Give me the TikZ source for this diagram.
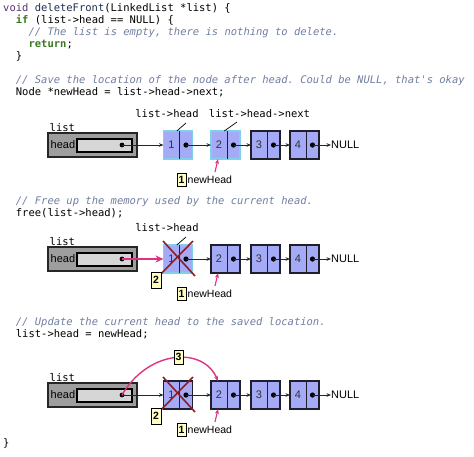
\documentclass[tikz,border=0pt]{standalone}
\usepackage{fontspec}
\setmainfont{Liberation Sans}
\setsansfont{Liberation Sans}
\setmonofont{DejaVu Sans Mono}
\usetikzlibrary{arrows.meta}

\definecolor{cellfill}{RGB}{164,170,246}
\definecolor{hiedge}{RGB}{128,208,236}
\definecolor{darkedge}{RGB}{30,30,45}
\definecolor{boxgray}{RGB}{158,158,158}
\definecolor{innergray}{RGB}{214,214,214}
\definecolor{ptrpink}{RGB}{222,50,130}
\definecolor{xred}{RGB}{140,30,40}
\definecolor{tagfill}{RGB}{255,255,195}
\definecolor{kwgreen}{RGB}{60,120,30}
\definecolor{cmtblue}{RGB}{112,126,160}
\definecolor{voidc}{RGB}{90,50,120}
\definecolor{fnc}{RGB}{30,45,80}

\tikzset{
  code/.style={anchor=base west, inner sep=0pt, text=black,
    font=\fontsize{10.5}{12}\selectfont\ttfamily\frenchspacing},
  cmt/.style={code, text=cmtblue, font=\fontsize{10.5}{12}\selectfont\ttfamily\itshape\frenchspacing},
  monolbl/.style={inner sep=0pt, font=\fontsize{10.5}{12}\selectfont\ttfamily, text=black},
  sanslbl/.style={inner sep=0pt, font=\fontsize{10.5}{12}\selectfont\sffamily, text=black},
  cell/.style={fill=cellfill, minimum width=29pt, minimum height=28pt, inner sep=0pt, outer sep=0pt, anchor=west},
  hicell/.style={cell, draw=hiedge, line width=1.7pt},
  dkcell/.style={cell, draw=darkedge, line width=1.4pt},
  numtxt/.style={inner sep=0pt, font=\fontsize{11}{11}\selectfont\sffamily, text=black!80},
  outerbox/.style={draw=black!85, line width=1.3pt, fill=boxgray, minimum width=89pt, minimum height=24pt, inner sep=0pt, outer sep=0pt},
  innerbox/.style={draw=black, line width=1.2pt, fill=innergray, minimum width=55pt, minimum height=13pt, inner sep=0pt, outer sep=0pt},
  ptr/.style={-{Stealth[length=4.5pt,width=3.6pt]}, line width=0.7pt, draw=black!85},
  pinkptr/.style={-{Stealth[length=5pt,width=4pt]}, line width=1.1pt, draw=ptrpink},
  pinkthick/.style={-{Stealth[length=8pt,width=7pt]}, line width=2pt, draw=ptrpink},
  xline/.style={draw=xred, line width=1.6pt},
  slash/.style={draw=black, line width=0.7pt},
  tag/.style={draw=black, line width=1pt, fill=tagfill, inner sep=0pt,
    font=\fontsize{10.5}{10}\selectfont\bfseries\sffamily},
  nulllbl/.style={sanslbl, anchor=west, font=\fontsize{11}{12}\selectfont\sffamily},
}

\newcommand\cellat[5]{%
  \node[#5] (#1) at (#2,#3) {};
  \draw[darkedge, line width=1pt] ([xshift=16pt]#1.north west) -- ([xshift=16pt]#1.south west);
  \node[numtxt] (#1-num) at ([xshift=8pt]#1.west) {#4};
  \coordinate (#1-dot) at ([xshift=-6.5pt]#1.east);
  \fill[black] (#1-dot) circle (2.6pt);
}
\newcommand\listbox[2]{%
  \node[outerbox] (#1-list) at (92.5,#2) {};
  \node[innerbox] (#1-inner) at (104.5,{#2+0.5}) {};
  \node[sanslbl, anchor=west, font=\fontsize{11}{12}\selectfont\sffamily] (#1-head) at (50.5,#2) {head};
  \node[monolbl, anchor=base west] (#1-listlbl) at (49.5,{#2-14}) {list};
  \coordinate (#1-ldot) at (122,#2);
  \fill[black] (#1-ldot) circle (2.4pt);
}
\newcommand\newheadtag[2]{%
  \node[tag, minimum width=9pt, minimum height=13pt] (#1-t1) at (181.5,{#2+35}) {1};
  \node[sanslbl, anchor=west] (#1-nh) at ([xshift=1pt]#1-t1.east) {newHead};
  \coordinate (#1-pstart) at (215,{#2+27});
  \draw[pinkptr] (#1-pstart) -- ([xshift=-7.5pt]#1-n2.south);
}

\begin{document}
\begin{tikzpicture}[x=1pt,y=-1pt]
\useasboundingbox (0,0) rectangle (474,456);

% ---------- code ----------
\node[code] (c1) at (3,11) {{\color{voidc}void} {\color{fnc}deleteFront}(LinkedList *list) \{};
\node[code] (c2) at (15.7,23) {{\bfseries\color{kwgreen}if} (list->head == NULL) \{};
\node[cmt] (c3) at (28.4,35) {// The list is empty, there is nothing to delete.};
\node[code] (c4) at (28.4,47) {{\bfseries\color{kwgreen}return};};
\node[code] (c5) at (15.7,59) {\}};
\node[cmt] (c6) at (15.7,83) {// Save the location of the node after head. Could be NULL, that's okay};
\node[code] (c7) at (15.7,95) {Node *newHead = list->head->next;};
\node[cmt] (c8) at (15.7,204) {// Free up the memory used by the current head.};
\node[code] (c9) at (15.7,216) {free(list->head);};
\node[cmt] (c10) at (15.7,325) {// Update the current head to the saved location.};
\node[code] (c11) at (15.7,337) {list->head = newHead;};
\node[code] (c12) at (3,446) {\}};

% ---------- diagram 1 ----------
\listbox{A}{145}
\cellat{A-n1}{163.5}{145}{1}{hicell}
\cellat{A-n2}{211}{145}{2}{hicell}
\cellat{A-n3}{251}{145}{3}{dkcell}
\cellat{A-n4}{290}{145}{4}{dkcell}
\node[nulllbl] (A-null) at (331,145) {NULL};
\draw[ptr] (A-ldot) -- (A-n1.west);
\draw[ptr] (A-n1-dot) -- (A-n2.west);
\draw[ptr] (A-n2-dot) -- (A-n3.west);
\draw[ptr] (A-n3-dot) -- (A-n4.west);
\draw[ptr] (A-n4-dot) -- (A-null.west);
\node[monolbl] (A-lh) at (167,114) {list->head};
\coordinate (A-s1) at (186,123);
\draw[slash] (A-s1) -- ([xshift=2pt]A-n1-num.east |- A-n1.north);
\node[monolbl] (A-lhn) at (259.5,114) {list->head->next};
\coordinate (A-s2) at (237,122);
\draw[slash] (A-s2) -- ([xshift=2pt]A-n2-num.east |- A-n2.north);
\newheadtag{A}{145}

% ---------- diagram 2 ----------
\listbox{B}{259}
\cellat{B-n1}{163.5}{259}{1}{hicell}
\cellat{B-n2}{211}{259}{2}{dkcell}
\cellat{B-n3}{251}{259}{3}{dkcell}
\cellat{B-n4}{290}{259}{4}{dkcell}
\node[nulllbl] (B-null) at (331,259) {NULL};
\draw[pinkthick] (B-ldot) -- (B-n1.west);
\draw[ptr] (B-n1-dot) -- (B-n2.west);
\draw[ptr] (B-n2-dot) -- (B-n3.west);
\draw[ptr] (B-n3-dot) -- (B-n4.west);
\draw[ptr] (B-n4-dot) -- (B-null.west);
\node[monolbl] (B-lh) at (167,228) {list->head};
\coordinate (B-s1) at (186,237);
\draw[slash] (B-s1) -- ([xshift=2pt]B-n1-num.east |- B-n1.north);
\coordinate (B-xa1) at (163,241);
\coordinate (B-xa2) at (195,276);
\coordinate (B-xb1) at (193,241);
\coordinate (B-xb2) at (157,278);
\draw[xline] (B-xa1) -- (B-xa2);
\draw[xline] (B-xb1) -- (B-xb2);
\node[tag, minimum width=10pt, minimum height=16pt] (B-t2) at (156,280) {2};
\newheadtag{B}{259}

% ---------- diagram 3 ----------
\listbox{C}{395}
\cellat{C-n1}{163.5}{395}{1}{dkcell}
\cellat{C-n2}{211}{395}{2}{dkcell}
\cellat{C-n3}{251}{395}{3}{dkcell}
\cellat{C-n4}{290}{395}{4}{dkcell}
\node[nulllbl] (C-null) at (331,395) {NULL};
\draw[ptr] (C-ldot) -- (C-n1.west);
\draw[ptr] (C-n1-dot) -- (C-n2.west);
\draw[ptr] (C-n2-dot) -- (C-n3.west);
\draw[ptr] (C-n3-dot) -- (C-n4.west);
\draw[ptr] (C-n4-dot) -- (C-null.west);
\draw[pinkptr, line width=1.4pt] (C-ldot) .. controls (148,350) and (203,346) .. ([xshift=-7.5pt]C-n2.north);
\node[tag, minimum width=9pt, minimum height=14pt] (C-t3) at (178.5,357) {3};
\coordinate (C-xa1) at (163,377);
\coordinate (C-xa2) at (195,412);
\coordinate (C-xb1) at (193,377);
\coordinate (C-xb2) at (157,414);
\draw[xline] (C-xa1) -- (C-xa2);
\draw[xline] (C-xb1) -- (C-xb2);
\node[tag, minimum width=10pt, minimum height=16pt] (C-t2) at (156,416) {2};
\newheadtag{C}{395}
\end{tikzpicture}
\end{document}
